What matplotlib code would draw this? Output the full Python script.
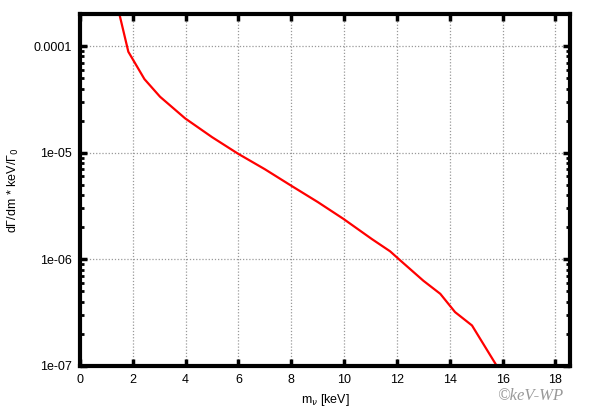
import matplotlib
matplotlib.use('Agg')
import matplotlib.pyplot as plt
from matplotlib.ticker import FixedLocator, FixedFormatter, LogLocator, NullFormatter

# curve
m_nu = [1.49, 1.83, 2.44, 3.03, 3.98, 5.0, 5.98, 7.0, 8.0, 9.0, 9.97, 11.05, 11.74, 12.12,
        13.0, 13.64, 14.2, 14.84, 15.78, 16.0]
rate = [2.0e-4, 8.85e-5, 4.9e-5, 3.35e-5, 2.1e-5, 1.4e-5, 9.8e-6, 7.0e-6, 4.9e-6, 3.45e-6,
        2.4e-6, 1.55e-6, 1.19e-6, 9.8e-7, 6.3e-7, 4.75e-7, 3.2e-7, 2.4e-7, 1.0e-7, 8.0e-8]

xticks = [0, 2, 4, 6, 8, 10, 12, 14, 16, 18]
yticks = [1e-7, 1e-6, 1e-5, 1e-4]
ylabels = ['1e-07', '1e-06', '1e-05', '0.0001']

plt.rcParams['font.family'] = ['Liberation Sans', 'DejaVu Sans']
fig = plt.figure(figsize=(5.9, 4.13), dpi=100)
ax = fig.add_axes([80 / 590, 1 - 366 / 413, 490 / 590, 352 / 413])

ax.plot(m_nu, rate, color='#ff0000', lw=1.6)
ax.set_yscale('log')
ax.set_xlim(0, 18.55)
ax.set_ylim(1e-7, 2e-4)

ax.xaxis.set_major_locator(FixedLocator(xticks))
ax.yaxis.set_major_locator(FixedLocator(yticks))
ax.yaxis.set_major_formatter(FixedFormatter(ylabels))
ax.yaxis.set_minor_locator(LogLocator(base=10, subs=range(2, 10)))
ax.yaxis.set_minor_formatter(NullFormatter())

ax.grid(True, which='major', color='#999999', ls=(0, (1, 1.5)), lw=0.9)
ax.tick_params(which='major', direction='in', top=True, right=True, length=5, width=2.5,
               labelsize=9, colors='black')
ax.tick_params(axis='x', which='major', pad=6)
ax.tick_params(axis='y', which='major', pad=6)
ax.tick_params(which='minor', direction='in', top=True, right=True, length=3, width=2)
for s in ax.spines.values():
    s.set_linewidth(3)

ax.set_xlabel('m$_\\nu$ [keV]', fontsize=9, labelpad=4)
ax.set_ylabel('d\u0393/dm * keV/\u0393$_0$', fontsize=9, labelpad=9)

fig.text(0.955, 0.032, '\u00a9keV-WP', fontsize=12, color='#999999', ha='right',
         family='Liberation Serif', style='italic')

fig.savefig('out.png', dpi=100)
